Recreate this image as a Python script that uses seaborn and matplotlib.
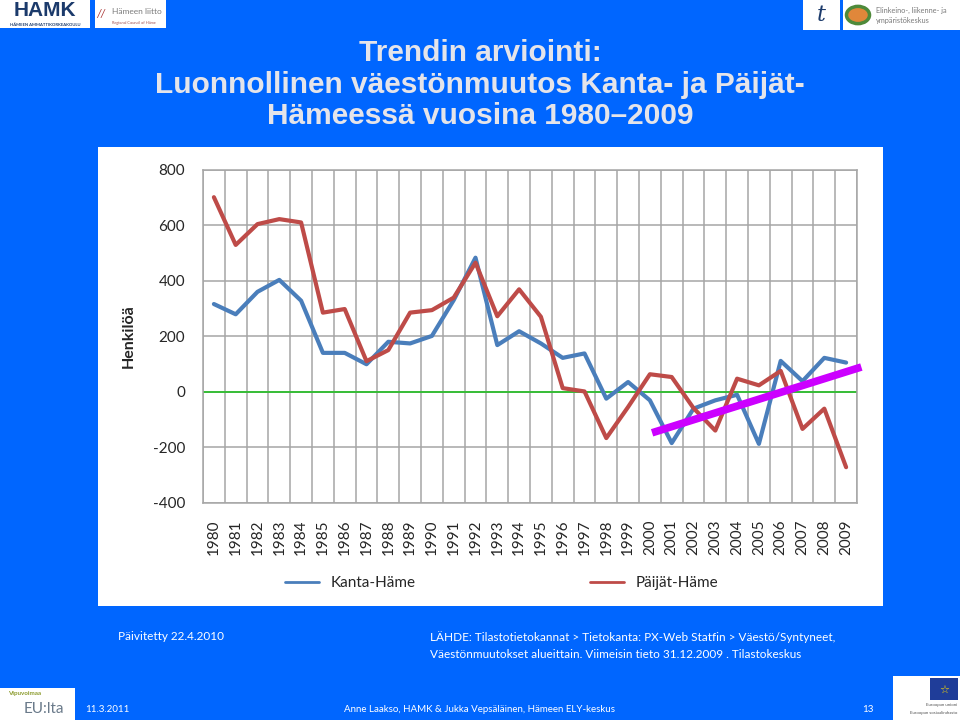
import numpy as np
import pandas as pd
import seaborn as sns
import matplotlib.pyplot as plt
from matplotlib.patches import Rectangle, Circle
from matplotlib.lines import Line2D

# Luonnollinen väestönmuutos (henkilöä) vuosina 1980-2009
vuodet = list(range(1980, 2010))
kanta_hame = [317, 280, 361, 404, 329, 141, 141, 100, 181, 175,
              202, 331, 484, 169, 219, 175, 123, 139, -24, 36,
              -30, -184, -60, -30, -10, -187, 112, 39, 123, 106]
paijat_hame = [702, 530, 605, 623, 611, 286, 299, 111, 151, 286,
               295, 340, 466, 273, 370, 271, 14, 2, -166, -54,
               64, 54, -58, -139, 48, 24, 76, -133, -60, -271]
alueet = ['Kanta-Häme', 'Päijät-Häme']

# käsin piirretty trendiviiva (magenta)
trendi_x = [2000.1, 2009.7]
trendi_y = [-147, 90]

y_ticks = [-400, -200, 0, 200, 400, 600, 800]

df = pd.DataFrame({
    'Vuosi': vuodet * 2,
    'Henkilöä': kanta_hame + paijat_hame,
    'Alue': [alueet[0]] * len(vuodet) + [alueet[1]] * len(vuodet),
})

sns.set_style('white')
plt.rcParams['font.family'] = ['Lato', 'DejaVu Sans']
plt.rcParams['axes.unicode_minus'] = False

TAUSTA = '#0066FF'
VARIT = {'Kanta-Häme': '#4A7EBB', 'Päijät-Häme': '#BE4B48'}
HARMAA = '#A6A6A6'

fig = plt.figure(figsize=(9.6, 7.2), dpi=100, facecolor=TAUSTA)


def px(x0, y0, x1, y1):
    # pikselialue -> figure-koordinaatit (vasen, ala, leveys, korkeus)
    return (x0 / 960, 1 - y1 / 720, (x1 - x0) / 960, (y1 - y0) / 720)


def laatikko(x0, y0, x1, y1, vari='white'):
    l, b, w, h = px(x0, y0, x1, y1)
    fig.add_artist(Rectangle((l, b), w, h, transform=fig.transFigure,
                             facecolor=vari, edgecolor='none', zorder=0))


# valkoinen kaaviolaatikko
laatikko(98, 147, 883, 606)

ax = fig.add_axes(px(203, 170, 857, 503))
ax.set_facecolor('white')
sns.lineplot(data=df, x='Vuosi', y='Henkilöä', hue='Alue', palette=VARIT,
             linewidth=3, ax=ax, legend=False, zorder=3)
ax.plot(trendi_x, trendi_y, color='#CC00FF', lw=5.5, solid_capstyle='butt',
        clip_on=False, zorder=5)

ax.set_xlim(1979.5, 2009.5)
ax.set_ylim(-400, 800)
ax.set_xticks(vuodet)
ax.set_xticklabels([str(v) for v in vuodet], rotation=90)
ax.set_xticks(np.arange(1979.5, 2010, 1), minor=True)
ax.set_yticks(y_ticks)
ax.set_axisbelow(True)
ax.grid(which='minor', axis='x', color=HARMAA, lw=1.1)
ax.grid(which='major', axis='x', visible=False)
ax.grid(which='major', axis='y', color=HARMAA, lw=1.1)
ax.axhline(0, color='#2DBE2D', lw=1.3, zorder=2)
for s in ax.spines.values():
    s.set_color(HARMAA)
    s.set_linewidth(1.1)
ax.tick_params(axis='x', which='both', length=0, pad=12, labelsize=11)
ax.tick_params(axis='y', length=4, color=HARMAA, pad=9, labelsize=11)
ax.set_xlabel('')
ax.set_ylabel('Henkilöä', fontsize=11.5, fontweight='bold')
ax.yaxis.set_label_coords((136 - 203) / 654, 0.5)

kahvat = [Line2D([], [], color=VARIT[a], lw=2) for a in alueet]
fig.legend(kahvat, alueet, loc='center', bbox_to_anchor=(502 / 960, 1 - 583 / 720),
           ncol=2, frameon=False, fontsize=11, handlelength=2.2,
           handletextpad=0.8, columnspacing=11.4)

# otsikko
otsikko = ['Trendin arviointi:',
           'Luonnollinen väestönmuutos Kanta- ja Päijät-',
           'Hämeessä vuosina 1980–2009']
for rivi, y in zip(otsikko, [61, 93, 124]):
    fig.text(0.5, 1 - y / 720, rivi, ha='center', va='baseline',
             family=['Liberation Sans', 'DejaVu Sans'], fontweight='bold',
             fontsize=21.5, color='#E4E4EA')

# alatunnisteet
fig.text(118 / 960, 1 - 637 / 720, 'Päivitetty 22.4.2010', color='white',
         fontsize=8.5, va='center')
fig.text(430 / 960, 1 - 637 / 720,
         'LÄHDE: Tilastotietokannat > Tietokanta: PX-Web Statfin > Väestö/Syntyneet,',
         color='white', fontsize=8.5, va='center')
fig.text(430 / 960, 1 - 655 / 720,
         'Väestönmuutokset alueittain. Viimeisin tieto 31.12.2009 . Tilastokeskus',
         color='white', fontsize=8.5, va='center')
fig.text(85 / 960, 1 - 709 / 720, '11.3.2011', color='white', fontsize=7, va='center')
fig.text(480 / 960, 1 - 709 / 720,
         'Anne Laakso, HAMK & Jukka Vepsäläinen, Hämeen ELY-keskus',
         color='white', fontsize=7, va='center', ha='center')
fig.text(868 / 960, 1 - 709 / 720, '13', color='white', fontsize=7,
         va='center', ha='center')

# logot (yksinkertaistettu)
laatikko(0, 0, 90, 28)
fig.text(45 / 960, 1 - 11 / 720, 'HAMK', ha='center', va='center',
         family=['Liberation Sans'], fontweight='bold', fontsize=15, color='#1B3A6B')
fig.text(45 / 960, 1 - 24.5 / 720, 'HÄMEEN AMMATTIKORKEAKOULU', ha='center',
         va='center', fontsize=3, fontweight='bold', color='#1B3A6B')
laatikko(95, 0, 166, 28)
fig.text(96 / 960, 1 - 14 / 720, '//', va='center', fontsize=8, color='#A83232',
         style='italic')
fig.text(112 / 960, 1 - 12 / 720, 'Hämeen liitto', va='center', fontsize=6,
         color='#7A7A7A')
fig.text(112 / 960, 1 - 23 / 720, 'Regional Council of Häme', va='center',
         fontsize=2.8, color='#A05050')
laatikko(803, 0, 840, 30)
fig.text(821 / 960, 1 - 15 / 720, 't', ha='center', va='center', fontsize=16,
         style='italic', family=['DejaVu Serif'], color='#1B3A6B')
laatikko(843, 0, 960, 30)
fig.add_artist(Circle((858 / 960, 1 - 15 / 720), 0.012, transform=fig.transFigure,
                      facecolor='#E0873A', edgecolor='#4E8A3A', lw=2.5, zorder=1))
fig.text(876 / 960, 1 - 10 / 720, 'Elinkeino-, liikenne- ja', va='center',
         fontsize=5.3, color='#7A7A7A')
fig.text(876 / 960, 1 - 21 / 720, 'ympäristökeskus', va='center',
         fontsize=5.3, color='#7A7A7A')

laatikko(0, 688, 75, 720)
fig.text(8 / 960, 1 - 694 / 720, 'Vipuvoimaa', va='center', fontsize=4.5,
         fontweight='bold', color='#8A9A2A')
fig.text(24 / 960, 1 - 709 / 720, 'EU:lta', va='center', fontsize=11,
         color='#6A7A8A')
laatikko(893, 676, 960, 720)
laatikko(930, 678, 958, 700, vari='#1F3D99')
fig.text(944 / 960, 1 - 689 / 720, '☆', ha='center', va='center', fontsize=8,
         color='#FFDD00')
fig.text(957 / 960, 1 - 705 / 720, 'Euroopan unioni', ha='right', va='center',
         fontsize=3.2, color='#555555')
fig.text(957 / 960, 1 - 713 / 720, 'Euroopan sosiaalirahasto', ha='right',
         va='center', fontsize=3.2, color='#555555')

fig.savefig('out.png', dpi=100, facecolor=TAUSTA)
